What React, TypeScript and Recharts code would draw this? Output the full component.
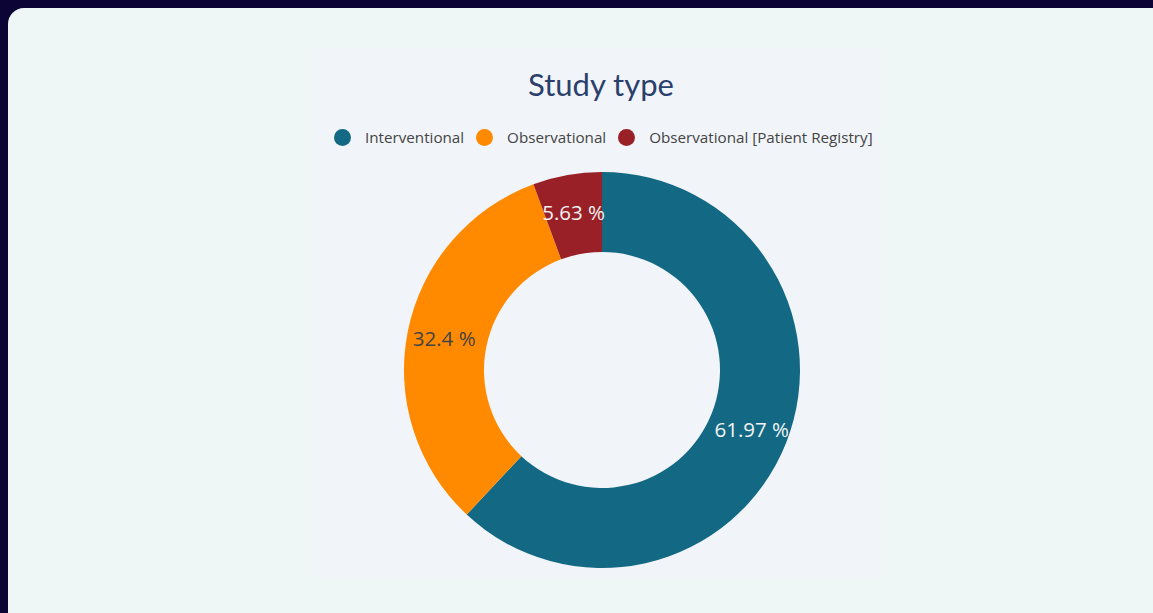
import { PieChart, Pie, Cell } from 'recharts';

const categories = ['Interventional', 'Observational', 'Observational [Patient Registry]'];
const shares = [61.97, 32.4, 5.63];
const COLORS = ['#136984', '#ff8a00', '#9a2027'];
const LABEL_COLORS = ['#f2f2f2', '#444444', '#f2f2f2'];

const data = categories.map((name, i) => ({ name, value: shares[i] }));

const RADIAN = Math.PI / 180;

function renderLabel(props: any) {
  const { cx, cy, midAngle, innerRadius, outerRadius, index, value } = props;
  const r = (innerRadius + outerRadius) / 2 + 3;
  const x = cx + r * Math.cos(-midAngle * RADIAN);
  const y = cy + r * Math.sin(-midAngle * RADIAN);
  return (
    <text
      x={x}
      y={y}
      fill={LABEL_COLORS[index]}
      textAnchor="middle"
      dominantBaseline="central"
      fontSize={20.5}
      fontFamily="'Open Sans', sans-serif"
    >
      {`${value} %`}
    </text>
  );
}

function ChartLegend() {
  return (
    <div
      style={{
        position: 'absolute',
        left: 19,
        top: 80,
        width: 620,
        display: 'flex',
        alignItems: 'center',
        whiteSpace: 'nowrap',
      }}
    >
      {categories.map((name, i) => (
        <div key={name} style={{ display: 'flex', alignItems: 'center', marginRight: 12, flexShrink: 0 }}>
          <span
            style={{
              width: 17,
              height: 17,
              borderRadius: '50%',
              background: COLORS[i],
              display: 'inline-block',
              marginRight: 14,
            }}
          />
          <span style={{ fontSize: 15.2, color: '#444', fontFamily: "'Open Sans', sans-serif" }}>{name}</span>
        </div>
      ))}
    </div>
  );
}

export default function App() {
  return (
    <div style={{ position: 'relative', width: 1153, height: 613, background: '#0b0434', overflow: 'hidden' }}>
      <style>{'body{margin:0}'}</style>
      <div
        style={{
          position: 'absolute',
          left: 8,
          top: 8,
          width: 1160,
          height: 620,
          borderRadius: 16,
          background: '#eef7f6',
        }}
      />
      <div style={{ position: 'absolute', left: 315, top: 47, width: 563, height: 531, background: '#f1f4f8' }}>
        <div
          style={{
            position: 'absolute',
            left: 0,
            top: 18,
            width: 572,
            textAlign: 'center',
            fontSize: 31,
            color: '#2b3f6c',
            fontFamily: "'Lato', sans-serif",
          }}
        >
          Study type
        </div>
        <ChartLegend />
        <PieChart width={563} height={531}>
          <Pie
            data={data}
            dataKey="value"
            nameKey="name"
            cx={282}
            cy={318}
            innerRadius={118}
            outerRadius={198}
            startAngle={90}
            endAngle={-270}
            stroke="none"
            labelLine={false}
            label={renderLabel}
            isAnimationActive={false}
          >
            {data.map((d, i) => (
              <Cell key={d.name} fill={COLORS[i]} />
            ))}
          </Pie>
        </PieChart>
      </div>
    </div>
  );
}
